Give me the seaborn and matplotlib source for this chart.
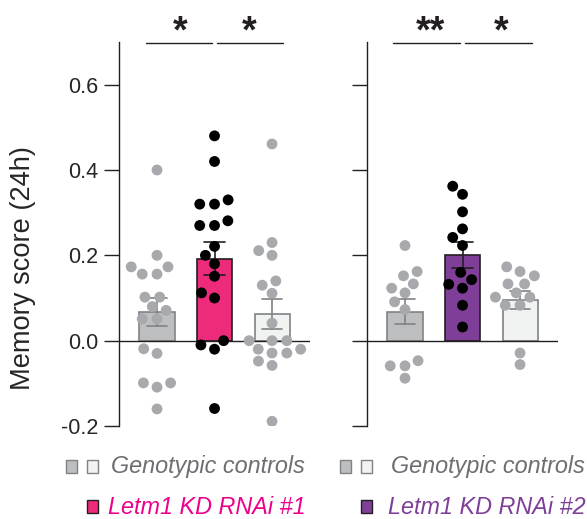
import numpy as np
import pandas as pd
import matplotlib.pyplot as plt
import seaborn as sns
from matplotlib.patches import Rectangle
from matplotlib.lines import Line2D

# Memory score (24h) por mosca
groups = ["ctrl_a", "kd", "ctrl_b"]

rnai1_ctrl_a = [0.40, 0.20, 0.173, 0.173, 0.156, 0.156, 0.102, 0.102, 0.080,
                0.071, 0.051, 0.051, -0.019, -0.030, -0.099, -0.099, -0.109, -0.16]
rnai1_kd = [0.48, 0.42, 0.33, 0.32, 0.32, 0.281, 0.27, 0.27, 0.221, 0.20,
            0.18, 0.151, 0.112, 0.10, 0.0, -0.01, -0.02, -0.159]
rnai1_ctrl_b = [0.461, 0.230, 0.211, 0.20, 0.14, 0.13, 0.111, 0.041, 0.0,
                0.0, 0.0, -0.02, -0.02, -0.029, -0.029, -0.048, -0.058, -0.189]

rnai2_ctrl_a = [0.223, 0.162, 0.152, 0.133, 0.123, 0.112, 0.091, 0.073,
                -0.047, -0.059, -0.059, -0.088]
rnai2_kd = [0.362, 0.343, 0.302, 0.262, 0.242, 0.223, 0.160, 0.143, 0.132,
            0.123, 0.083, 0.032]
rnai2_ctrl_b = [0.173, 0.162, 0.152, 0.133, 0.133, 0.112, 0.102, 0.102,
                0.083, 0.083, -0.029, -0.056]

sig_left = ["*", "*"]
sig_right = ["**", "*"]
legend_ctrl = "Genotypic controls"
legend_kd = ["Letm1 KD RNAi #1", "Letm1 KD RNAi #2"]

grey_bar, grey_edge = "#bcbec0", "#808285"
light_bar = "#f1f2f2"
pink, purple = "#ee2a7b", "#7f3f98"
dark = "#231f20"
dot_grey = "#a7a9ac"

sns.set_style("ticks")
plt.rcParams["font.family"] = ["Liberation Sans", "DejaVu Sans"]

W, H = 587, 519
fig = plt.figure(figsize=(W / 100, H / 100), dpi=100)


def fx(x):
    return x / W


def fy(y):
    return 1 - y / H


def panel(x0, x1, ctrl_a, kd, ctrl_b, kd_color):
    ax = fig.add_axes([fx(x0), fy(426), fx(x1 - x0), (426 - 42) / H])
    df = pd.DataFrame({
        "group": ["ctrl_a"] * len(ctrl_a) + ["kd"] * len(kd) + ["ctrl_b"] * len(ctrl_b),
        "score": ctrl_a + kd + ctrl_b,
    })
    fills = {"ctrl_a": grey_bar, "kd": kd_color, "ctrl_b": light_bar}
    edges = [grey_edge, dark, grey_edge]
    errs = [grey_edge, dark, grey_edge]
    sns.barplot(data=df, x="group", y="score", hue="group", order=groups,
                palette=fills, saturation=1, errorbar="se", capsize=0.35,
                width=0.61, linewidth=1.2, err_kws={"linewidth": 1.2},
                legend=False, ax=ax)
    for p in ax.patches:
        i = int(round(p.get_x() + p.get_width() / 2))
        p.set_edgecolor(edges[i])
    for ln in ax.lines:
        xs = np.asarray(ln.get_xdata(), dtype=float)
        i = int(round(np.nanmean(xs)))
        ln.set_color(errs[i])
    dots = {"ctrl_a": dot_grey, "kd": "black", "ctrl_b": dot_grey}
    sns.swarmplot(data=df, x="group", y="score", hue="group", order=groups,
                  palette=dots, size=7.8, linewidth=0, legend=False, ax=ax)
    ax.axhline(0, color=dark, linewidth=1.0, zorder=1.5)
    ax.set_xlim(-0.661, 2.66)
    ax.set_ylim(-0.2, 0.7)
    ax.set_yticks([-0.2, 0.0, 0.2, 0.4, 0.6])
    ax.set_xticks([])
    ax.set_xlabel("")
    ax.set_ylabel("")
    for s in ["top", "right", "bottom"]:
        ax.spines[s].set_visible(False)
    ax.spines["left"].set_color(dark)
    ax.spines["left"].set_linewidth(1.0)
    ax.tick_params(axis="y", length=11, width=1.0, color=dark, labelsize=15.5, pad=4)
    ax.set_facecolor("none")
    return ax


ax1 = panel(119, 310, rnai1_ctrl_a, rnai1_kd, rnai1_ctrl_b, pink)
ax2 = panel(367, 558, rnai2_ctrl_a, rnai2_kd, rnai2_ctrl_b, purple)
ax1.set_yticklabels(["-0.2", "0.0", "0.2", "0.4", "0.6"])
ax2.tick_params(labelleft=False)
fig.text(fx(23), fy(268), "Memory score (24h)", rotation=90, fontsize=19.6,
         ha="center", va="center")

# separar un poco los puntos del swarm (estilo GraphPad)
fig.canvas.draw()
for ax in [ax1, ax2]:
    for coll in ax.collections:
        off = np.array(coll.get_offsets(), dtype=float)
        if len(off) == 0:
            continue
        c = off[:, 0].round()
        off[:, 0] = c + (off[:, 0] - c) * 1.3
        if "draw" in coll.__dict__:
            del coll.draw
        coll.set_offsets(off)

# barras de significancia
for (a, b), (c, d), marks, centers in [
        ((146, 212), (217, 283), sig_left, (180, 249)),
        ((393, 460), (465, 532), sig_right, (430, 501))]:
    for xa, xb in [(a, b), (c, d)]:
        fig.add_artist(Line2D([fx(xa), fx(xb)], [fy(43.3), fy(43.3)],
                              color=dark, linewidth=1.0))
    for m, xc in zip(marks, centers):
        fig.text(fx(xc), fy(42), m, fontsize=27, fontweight="bold",
                 ha="center", va="baseline", color=dark)

# leyenda
def square(x, y, fc, ec):
    fig.add_artist(Rectangle((fx(x), fy(y + 13)), 11 / W, 13 / H,
                             facecolor=fc, edgecolor=ec, linewidth=1.0))

square(66, 460, grey_bar, grey_edge)
square(87, 460, light_bar, grey_edge)
square(340, 460, grey_bar, grey_edge)
square(361, 460, light_bar, grey_edge)
square(87, 500, pink, dark)
square(361, 500, purple, dark)
fig.text(fx(111), fy(467), legend_ctrl, fontsize=16.8, style="italic",
         color="#6d6e71", va="center")
fig.text(fx(391), fy(467), legend_ctrl, fontsize=16.8, style="italic",
         color="#6d6e71", va="center")
fig.text(fx(108), fy(507), legend_kd[0], fontsize=16.8, style="italic",
         color="#ec008c", va="center")
fig.text(fx(388), fy(507), legend_kd[1], fontsize=16.8, style="italic",
         color=purple, va="center")

plt.savefig("out.png", dpi=100)
